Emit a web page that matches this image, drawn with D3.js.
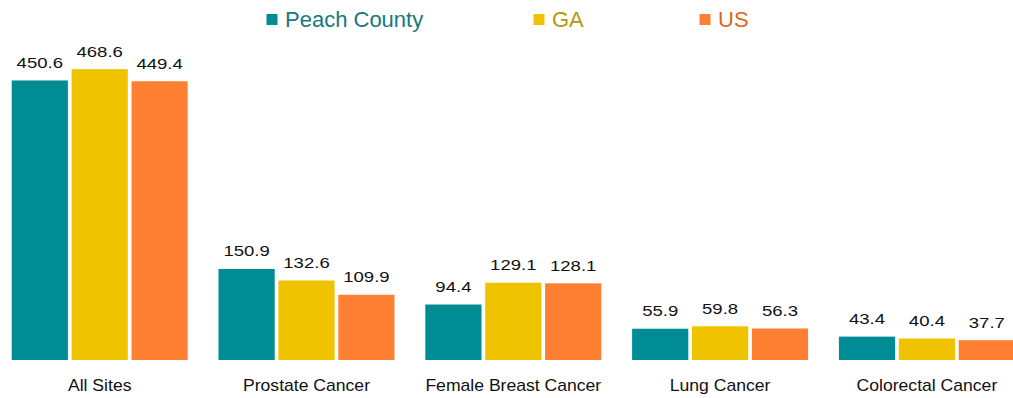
<!DOCTYPE html>
<html>
<head>
<meta charset="utf-8">
<script src="https://cdn.jsdelivr.net/npm/d3@7"></script>
<style>
  html, body { margin: 0; padding: 0; background: #fff; }
  svg { display: block; }
</style>
</head>
<body>
<svg id="chart" width="1013" height="398"></svg>
<script>
// Cancer incidence rates per 100,000
const categories = ["All Sites", "Prostate Cancer", "Female Breast Cancer", "Lung Cancer", "Colorectal Cancer"];
const seriesNames = ["Peach County", "GA", "US"];
const peachCounty = [450.6, 150.9, 94.4, 55.9, 43.4];
const georgia = [468.6, 132.6, 129.1, 59.8, 40.4];
const unitedStates = [449.4, 109.9, 128.1, 56.3, 37.7];

const seriesValues = [peachCounty, georgia, unitedStates];
const barColors = ["#008C95", "#F0C300", "#FF8033"];
const textColors = ["#17787E", "#B8960A", "#E2631C"];

const svg = d3.select("#chart");
const plotBottom = 360;
const groupWidth = 206.8;
const groupSpan = 176;
const labelFont = "Liberation Sans, Arial, sans-serif";

const groupScale = d3.scaleBand()
  .domain(categories)
  .range([11.7, 11.7 + groupWidth * categories.length])
  .paddingInner(0);

const x1 = d3.scaleBand()
  .domain(seriesNames)
  .range([0, groupSpan])
  .paddingInner(3.7 / 60)
  .paddingOuter(0);

// Value axis: zero sits just below the visible plot bottom
const y = d3.scaleLinear()
  .domain([0, 500])
  .range([363.9, 363.9 - 314.5]);

const rows = categories.map((c, i) => ({
  category: c,
  values: seriesNames.map((s, j) => ({ series: s, idx: j, value: seriesValues[j][i] }))
}));

const groups = svg.append("g")
  .selectAll("g")
  .data(rows)
  .join("g")
  .attr("transform", d => `translate(${groupScale(d.category)},0)`);

groups.selectAll("rect")
  .data(d => d.values)
  .join("rect")
  .attr("x", d => x1(d.series))
  .attr("width", x1.bandwidth())
  .attr("y", d => y(d.value))
  .attr("height", d => plotBottom - y(d.value))
  .attr("fill", d => barColors[d.idx]);

// Value labels above each bar (slightly widened type)
groups.selectAll("text.val")
  .data(d => d.values)
  .join("text")
  .attr("class", "val")
  .attr("transform", d => `translate(${x1(d.series) + x1.bandwidth() / 2},${y(d.value) - 12.5}) scale(1.28,1)`)
  .attr("text-anchor", "middle")
  .attr("font-family", labelFont)
  .attr("font-size", 14.5)
  .attr("fill", "#111")
  .text(d => d.value.toFixed(1));

// Category axis, labels centred under the middle bar of each group
const xAxis = d3.axisBottom(groupScale).tickSize(0).tickPadding(0);
const axisG = svg.append("g")
  .attr("transform", `translate(0,${plotBottom})`)
  .call(xAxis);
axisG.select(".domain").remove();
const centreShift = (groupSpan - groupWidth) / 2;
axisG.selectAll(".tick text")
  .attr("x", 0)
  .attr("y", 0)
  .attr("dy", 0)
  .attr("transform", `translate(${centreShift},31) scale(1.1,1)`)
  .attr("font-family", labelFont)
  .attr("font-size", 16)
  .attr("fill", "#111");

// Legend
const legendX = [266.5, 533.5, 699.5];
const legend = svg.append("g")
  .selectAll("g")
  .data(seriesNames)
  .join("g")
  .attr("transform", (d, i) => `translate(${legendX[i]},0)`);
legend.append("rect")
  .attr("x", 0).attr("y", 14)
  .attr("width", 11).attr("height", 11)
  .attr("fill", (d, i) => barColors[i]);
legend.append("text")
  .attr("x", 18.5).attr("y", 27)
  .attr("font-family", labelFont)
  .attr("font-size", 22)
  .attr("fill", (d, i) => textColors[i])
  .text(d => d);
</script>
</body>
</html>
